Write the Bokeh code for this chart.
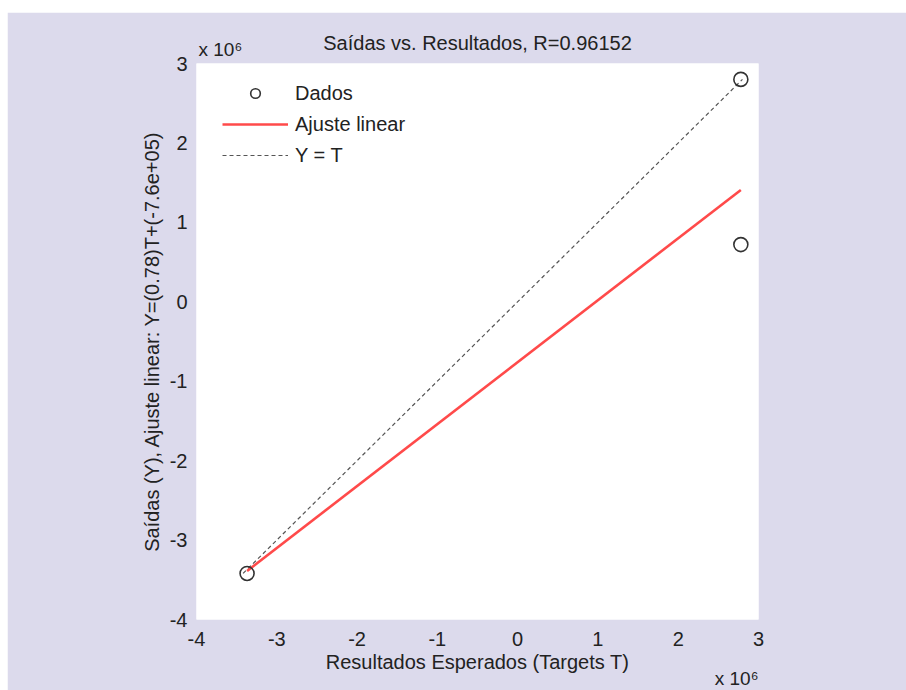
from bokeh.plotting import figure
from bokeh.models import Range1d, FixedTicker, Legend, LegendItem, Title
from bokeh.embed import file_html
from bokeh.resources import INLINE

# ---- data ----
targets_T = [-3.37e6, 2.78e6, 2.78e6]
outputs_Y = [-3.42e6, 2.80e6, 0.72e6]
fit_slope = 0.78
fit_intercept = -7.6e5
r_value = 0.96152
tick_values = [-4e6, -3e6, -2e6, -1e6, 0, 1e6, 2e6, 3e6]
tick_labels = ["-4", "-3", "-2", "-1", "0", "1", "2", "3"]
exponent_text = "x 10\u2076"

FONT = "Liberation Sans"
TXT = "#222222"

p = figure(width=899, height=678, output_backend="svg", toolbar_location=None,
           x_range=Range1d(-4e6, 3e6), y_range=Range1d(-4e6, 3e6),
           min_border_left=189, min_border_right=148, min_border_top=51,
           min_border_bottom=71)
p.margin = (12, 0, 0, 7)
p.border_fill_color = "#dcdaec"
p.background_fill_color = "#ffffff"
p.outline_line_color = None
p.grid.visible = False

for ax in (p.xaxis[0], p.yaxis[0]):
    ax.ticker = FixedTicker(ticks=tick_values)
    ax.major_label_overrides = {v: s for v, s in zip(tick_values, tick_labels)}
    ax.axis_line_color = None
    ax.major_tick_line_color = None
    ax.minor_tick_line_color = None
    ax.major_label_text_font = FONT
    ax.major_label_text_font_size = "20px"
    ax.major_label_text_color = TXT
    ax.axis_label_text_font = FONT
    ax.axis_label_text_font_size = "20px"
    ax.axis_label_text_font_style = "normal"
    ax.axis_label_text_color = TXT

p.xaxis[0].major_label_standoff = 6
p.xaxis[0].axis_label = "Resultados Esperados (Targets T)"
p.xaxis[0].axis_label_standoff = 2
p.yaxis[0].major_label_standoff = 3
p.yaxis[0].axis_label = "Saídas (Y), Ajuste linear: Y=(0.78)T+(-7.6e+05)"
p.yaxis[0].axis_label_standoff = 4

# Y = T reference line
lo = min(min(targets_T), min(outputs_Y))
hi = max(max(targets_T), max(outputs_Y))
r_ref = p.line([lo, hi], [lo, hi], line_color="#555555", line_width=1.2, line_dash="4 3")

# linear fit line
fx = [min(targets_T), max(targets_T)]
fy = [fit_slope * v + fit_intercept for v in fx]
r_fit = p.line(fx, fy, line_color="#ff4a4a", line_width=2.6)

# data points
r_pts = p.scatter(targets_T, outputs_Y, marker="circle", size=14, fill_color=None,
                  line_color="#333333", line_width=1.6)

legend = Legend(items=[LegendItem(label="Dados", renderers=[r_pts]),
                       LegendItem(label="Ajuste linear", renderers=[r_fit]),
                       LegendItem(label="Y = T", renderers=[r_ref])],
                location=(26, 452), border_line_color=None, background_fill_alpha=0,
                glyph_width=66, glyph_height=24, label_height=24, spacing=7,
                label_standoff=7, padding=0, margin=0,
                label_text_font=FONT, label_text_font_size="20px", label_text_color=TXT)
p.add_layout(legend, "center")

# exponent marker above the plot (closest to the frame)
p.add_layout(Title(text=exponent_text, align="left", offset=2, standoff=8,
                   text_font=FONT, text_font_size="19px", text_font_style="normal",
                   text_color=TXT), "above")
# exponent marker below the x axis
p.add_layout(Title(text=exponent_text, align="right", standoff=-26,
                   text_font=FONT, text_font_size="19px", text_font_style="normal",
                   text_color=TXT), "below")

# main title (outermost in the top panel, pulled down into the same row)
p.title.text = "Saídas vs. Resultados, R=%.5f" % r_value
p.title.align = "center"
p.title.offset = -5
p.title.standoff = -42
p.title.text_font = FONT
p.title.text_font_size = "20px"
p.title.text_font_style = "normal"
p.title.text_color = TXT

open("out.html", "w").write(file_html(p, INLINE))
